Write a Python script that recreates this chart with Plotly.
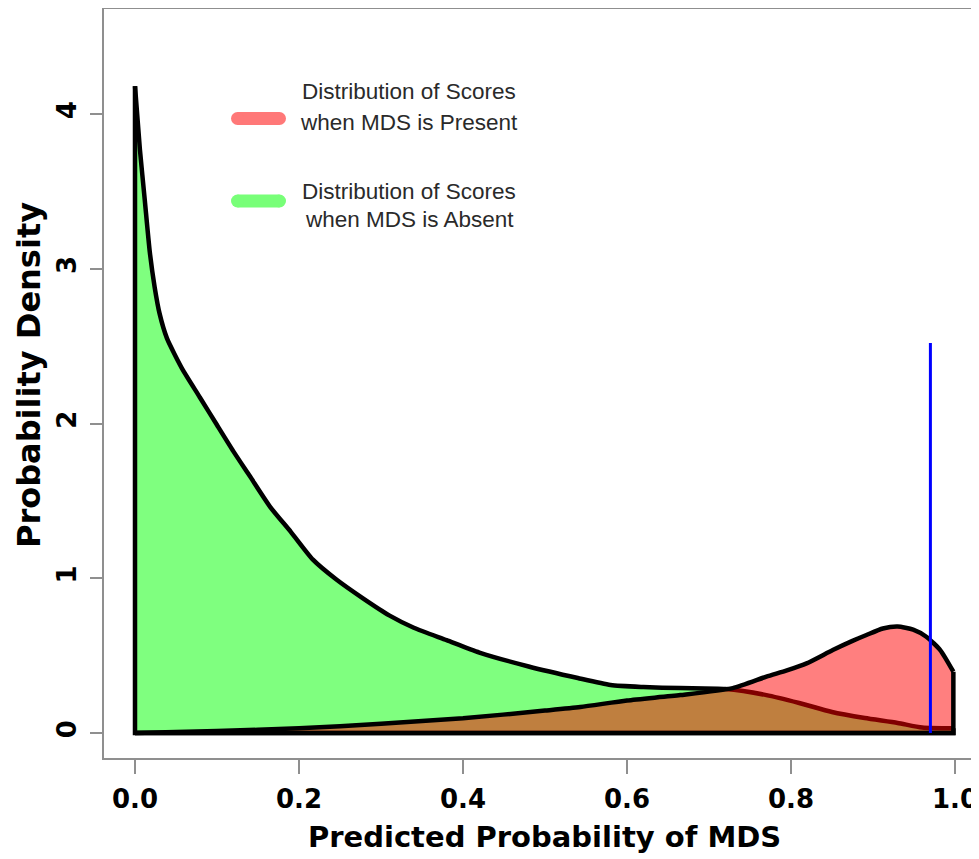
import plotly.graph_objects as go

# ---- data ----
absent_x = [0.0, 0.006, 0.012, 0.018, 0.024, 0.030, 0.039, 0.049, 0.059, 0.079, 0.10, 0.12, 0.14,
            0.165, 0.19, 0.217, 0.246, 0.278, 0.31, 0.34, 0.38, 0.42, 0.48, 0.54, 0.58,
            0.62, 0.665, 0.72, 0.77, 0.81, 0.85, 0.89, 0.93, 0.96, 0.998]
absent_y = [4.18, 3.77, 3.44, 3.11, 2.88, 2.71, 2.55, 2.44, 2.34, 2.17, 1.99, 1.82, 1.66,
            1.46, 1.30, 1.12, 0.99, 0.87, 0.76, 0.68, 0.60, 0.52, 0.43, 0.355, 0.31,
            0.297, 0.29, 0.284, 0.245, 0.194, 0.136, 0.097, 0.065, 0.035, 0.03]

present_x = [0.0, 0.1, 0.2, 0.3, 0.4, 0.5, 0.543, 0.6, 0.665, 0.729, 0.77, 0.795, 0.819, 0.851,
             0.875, 0.892, 0.912, 0.93, 0.949, 0.965, 0.982, 0.998]
present_y = [0.0, 0.013, 0.03, 0.06, 0.095, 0.145, 0.168, 0.21, 0.245, 0.29, 0.364, 0.405, 0.45,
             0.536, 0.595, 0.633, 0.675, 0.688, 0.668, 0.622, 0.536, 0.396]

threshold_x = 0.970
threshold_top = 2.52

x_ticks = [0.0, 0.2, 0.4, 0.6, 0.8, 1.0]
x_ticklabels = ["0.0", "0.2", "0.4", "0.6", "0.8", "1.0"]
y_ticks = [0, 1, 2, 3, 4]
y_ticklabels = ["0", "1", "2", "3", "4"]

legend_lines = [["Distribution of Scores", "when MDS is Present"],
                ["Distribution of Scores", "when MDS is Absent"]]
legend_colors = ["#FF7878", "#78FF78"]

# ---- figure geometry (pixels); page body has an 8px margin ----
OFF = 8
W, H = 979 - OFF, 859 - OFF
L, R, T, B = 104 - OFF, 0, 0, 101
PW, PH = W - L - R, H - T - B
X0PX, XSCALE = 135 - OFF, 820.0      # pixel of x=0, pixels per unit
Y0PX, YSCALE = 733 - OFF, 154.75     # pixel of y=0, pixels per unit


def fx(px):
    return (px - OFF - L) / PW


def fy(py):
    return (H - B - (py - OFF)) / PH


fig = go.Figure()
OUTLINE = dict(color="black", width=4.5)


def add_density(xs, ys, fillcolor, start_on_axis):
    # filled polygon (no outline)
    px = ([xs[0]] if start_on_axis else []) + xs + [xs[-1], xs[0]]
    py = ([0] if start_on_axis else []) + ys + [0, 0]
    fig.add_trace(go.Scatter(x=px, y=py, mode="lines", fill="toself", fillcolor=fillcolor,
                             line=dict(width=0, color="rgba(0,0,0,0)"),
                             hoverinfo="skip", showlegend=False))
    # smooth density curve
    fig.add_trace(go.Scatter(x=xs, y=ys, mode="lines",
                             line=dict(color="black", width=4.5, shape="spline", smoothing=0.6),
                             hoverinfo="skip", showlegend=False))
    # straight polygon edges
    ex = [xs[-1], xs[-1], xs[0]] + ([xs[0]] if start_on_axis else [])
    ey = [ys[-1], 0, 0] + ([ys[0]] if start_on_axis else [])
    fig.add_trace(go.Scatter(x=ex, y=ey, mode="lines", line=OUTLINE,
                             hoverinfo="skip", showlegend=False))


add_density(absent_x, absent_y, "rgba(0,255,0,0.5)", True)
add_density(present_x, present_y, "rgba(255,0,0,0.5)", False)

# blue threshold line
fig.add_trace(go.Scatter(x=[threshold_x, threshold_x], y=[0, threshold_top], mode="lines",
                         line=dict(color="#0000FF", width=3),
                         hoverinfo="skip", showlegend=False))

axis_gray = "#8f8f8f"
tick_font = dict(family="DejaVu Sans", size=26, color="black", weight="bold")

xr0 = (L - X0PX) / XSCALE
yr0 = ((H - B) - Y0PX) / -YSCALE
fig.update_xaxes(range=[xr0, xr0 + PW / XSCALE],
                 tickvals=x_ticks, ticktext=x_ticklabels,
                 ticks="outside", ticklen=14, tickwidth=2, tickcolor=axis_gray,
                 ticklabelstandoff=3,
                 showline=True, linecolor=axis_gray, linewidth=2,
                 showgrid=False, zeroline=False, tickfont=tick_font)
fig.update_yaxes(range=[yr0, yr0 + PH / YSCALE],
                 tickvals=y_ticks, ticktext=y_ticklabels, tickangle=-90,
                 ticks="outside", ticklen=12, tickwidth=2, tickcolor=axis_gray,
                 ticklabelstandoff=4,
                 showline=True, linecolor=axis_gray, linewidth=2,
                 showgrid=False, zeroline=False, tickfont=tick_font)

shapes = [dict(type="line", xref="paper", yref="paper", x0=0, x1=1, y0=1, y1=1,
               line=dict(color=axis_gray, width=2))]

# legend swatches (rounded bars)
sw_x0, sw_x1, sw_h = 231, 286, 13
sw_centers = [118.5, 201]
annotations = []
text_rows = [[91, 122], [191, 220]]
for i, cy in enumerate(sw_centers):
    col = legend_colors[i]
    r = sw_h / 2
    shapes.append(dict(type="rect", xref="paper", yref="paper",
                       x0=fx(sw_x0 + r), x1=fx(sw_x1 - r), y0=fy(cy + r), y1=fy(cy - r),
                       fillcolor=col, line=dict(width=0)))
    for ex in (sw_x0 + r, sw_x1 - r):
        shapes.append(dict(type="circle", xref="paper", yref="paper",
                           x0=fx(ex - r), x1=fx(ex + r), y0=fy(cy + r), y1=fy(cy - r),
                           fillcolor=col, line=dict(width=0)))
    for j, line in enumerate(legend_lines[i]):
        annotations.append(dict(xref="paper", yref="paper", x=fx(409), y=fy(text_rows[i][j]),
                                xanchor="center", yanchor="middle", showarrow=False,
                                text=line,
                                font=dict(family="Liberation Sans", size=22.5,
                                          color="#2a2a2a")))

# axis titles
annotations.append(dict(xref="paper", yref="paper", x=fx(544), y=fy(837),
                        xanchor="center", yanchor="middle", showarrow=False,
                        text="Predicted Probability of MDS",
                        font=dict(family="DejaVu Sans", size=29, color="black", weight="bold")))
annotations.append(dict(xref="paper", yref="paper", x=fx(29), y=fy(375),
                        xanchor="center", yanchor="middle", showarrow=False, textangle=-90,
                        text="Probability Density",
                        font=dict(family="DejaVu Sans", size=32, color="black", weight="bold")))

fig.update_layout(width=W, height=H, margin=dict(l=L, r=R, t=T, b=B, pad=0),
                  plot_bgcolor="white", paper_bgcolor="white",
                  shapes=shapes, annotations=annotations, showlegend=False)

fig.write_html("out.html")
